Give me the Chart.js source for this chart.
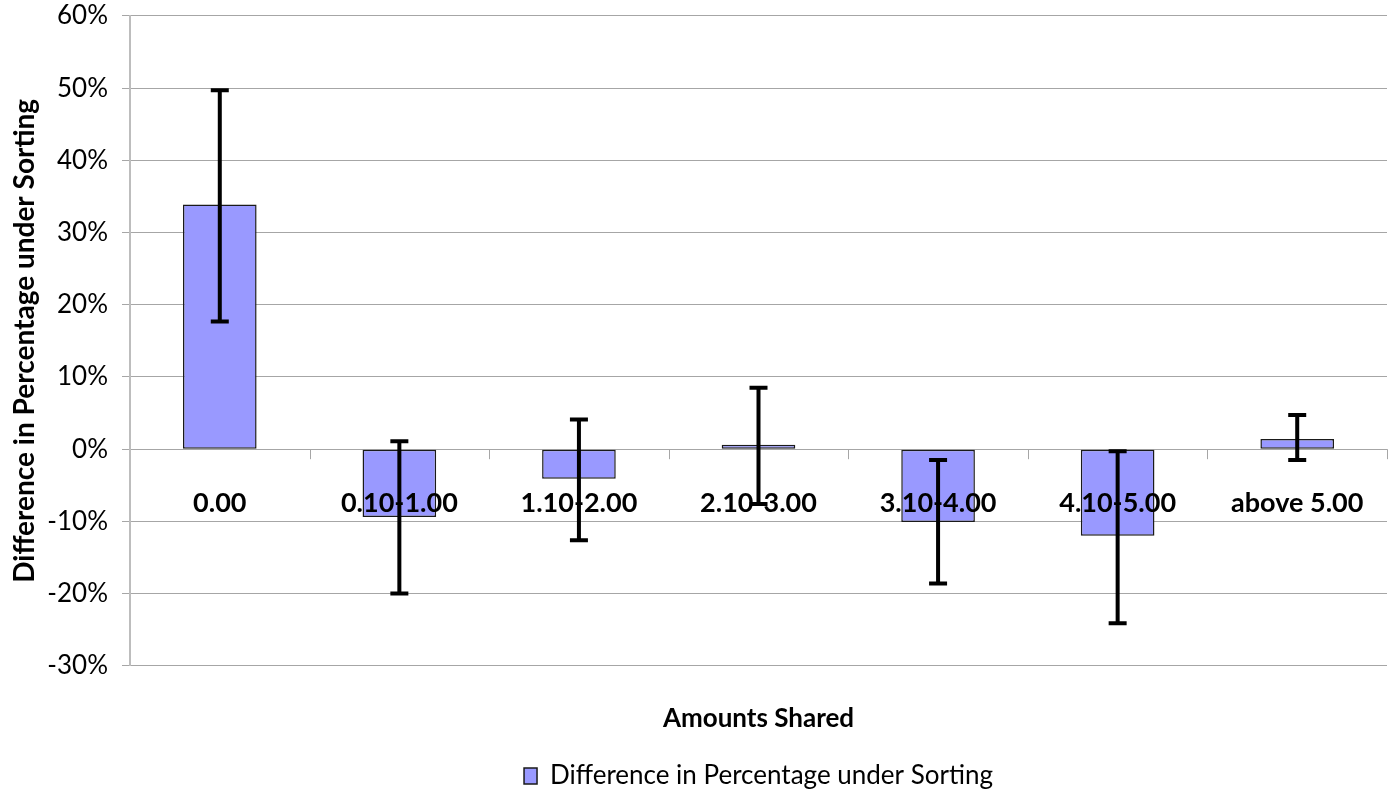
<!DOCTYPE html>
<html>
<head>
<meta charset="utf-8">
<script src="https://cdn.jsdelivr.net/npm/chart.js@4.4.1/dist/chart.umd.min.js"></script>
<style>
  html, body { margin: 0; padding: 0; background: #fff; }
  #wrap { width: 1397px; height: 790px; }
</style>
</head>
<body>
<div id="wrap"><canvas id="barChart"></canvas></div>
<script>
const categories = ["0.00", "0.10-1.00", "1.10-2.00", "2.10-3.00", "3.10-4.00", "4.10-5.00", "above 5.00"];
const differences = [33.9, -9.4, -4.1, 0.6, -10.1, -12.0, 1.4];
const errHigh = [49.7, 1.1, 4.1, 8.5, -1.5, -0.3, 4.75];
const errLow = [17.7, -20.0, -12.6, -7.6, -18.6, -24.1, -1.5];
const yTicks = [60, 50, 40, 30, 20, 10, 0, -10, -20, -30];

const FONT = "Lato, 'Open Sans', sans-serif";

// category labels sit just under the zero line, with small tick marks
const categoryLabels = {
  id: "categoryLabels",
  afterDatasetsDraw(chart) {
    const ctx = chart.ctx;
    const y0 = chart.scales.y.getPixelForValue(0);
    const meta = chart.getDatasetMeta(0);
    ctx.save();
    ctx.strokeStyle = "#a6a6a6";
    ctx.lineWidth = 1;
    const step = (chart.chartArea.right - chart.chartArea.left) / categories.length;
    for (let i = 1; i <= categories.length; i++) {
      const px = Math.round(chart.chartArea.left + i * step) + 0.5;
      ctx.beginPath();
      ctx.moveTo(px, y0);
      ctx.lineTo(px, y0 + 10);
      ctx.stroke();
    }
    ctx.fillStyle = "#000";
    ctx.font = "bold 27px " + FONT;
    ctx.textAlign = "center";
    ctx.textBaseline = "middle";
    meta.data.forEach((bar, i) => {
      ctx.fillText(categories[i], bar.x, y0 + 54);
    });
    ctx.restore();
  }
};

const errorBars = {
  id: "errorBars",
  afterDatasetsDraw(chart) {
    const ctx = chart.ctx;
    const y = chart.scales.y;
    const meta = chart.getDatasetMeta(0);
    ctx.save();
    ctx.strokeStyle = "#000";
    ctx.lineWidth = 4;
    meta.data.forEach((bar, i) => {
      const top = y.getPixelForValue(errHigh[i]);
      const bot = y.getPixelForValue(errLow[i]);
      ctx.beginPath();
      ctx.moveTo(bar.x, top);
      ctx.lineTo(bar.x, bot);
      ctx.moveTo(bar.x - 9, top);
      ctx.lineTo(bar.x + 9, top);
      ctx.moveTo(bar.x - 9, bot);
      ctx.lineTo(bar.x + 9, bot);
      ctx.stroke();
    });
    ctx.restore();
  }
};

new Chart(document.getElementById("barChart"), {
  type: "bar",
  data: {
    labels: categories,
    datasets: [
      {
        label: "Difference in Percentage under Sorting",
        data: differences,
        backgroundColor: "#9999ff",
        borderColor: "#1a1a1a",
        borderWidth: 1.5,
        borderSkipped: false,
        categoryPercentage: 1,
        barPercentage: 0.41,
      },
    ],
  },
  options: {
    responsive: true,
    maintainAspectRatio: false,
    animation: false,
    layout: { padding: { top: 0, right: 10, left: 0, bottom: -9 } },
    plugins: {
      tooltip: { enabled: false },
      legend: {
        position: "bottom",
        fullSize: false,
        labels: {
          color: "#000",
          font: { family: FONT, size: 26 },
          boxWidth: 13,
          boxHeight: 16,
          padding: 0,
          useBorderRadius: false,
        },
      },
    },
    scales: {
      x: {
        grid: { display: false, drawTicks: false },
        border: { display: false },
        ticks: { display: false },
        title: {
          display: true,
          text: "Amounts Shared",
          color: "#000",
          font: { family: FONT, size: 26, weight: "bold" },
          padding: { top: 37, bottom: 29 },
        },
      },
      y: {
        min: -30,
        max: 60,
        afterBuildTicks(scale) {
          scale.ticks = yTicks.map((v) => ({ value: v }));
        },
        afterFit(scale) {
          scale.width = 130;
        },
        grid: { color: "#a6a6a6", tickLength: 8 },
        border: { color: "#bdbdbd", width: 2 },
        ticks: {
          color: "#000",
          font: { family: FONT, size: 26, lineHeight: 0.15 },
          padding: 14,
          callback: (v) => v + "%",
        },
        title: {
          display: true,
          text: "Difference in Percentage under Sorting",
          color: "#000",
          font: { family: FONT, size: 28, weight: "bold" },
          padding: { top: 8, bottom: 0 },
        },
      },
    },
  },
  plugins: [categoryLabels, errorBars],
});
</script>
</body>
</html>
